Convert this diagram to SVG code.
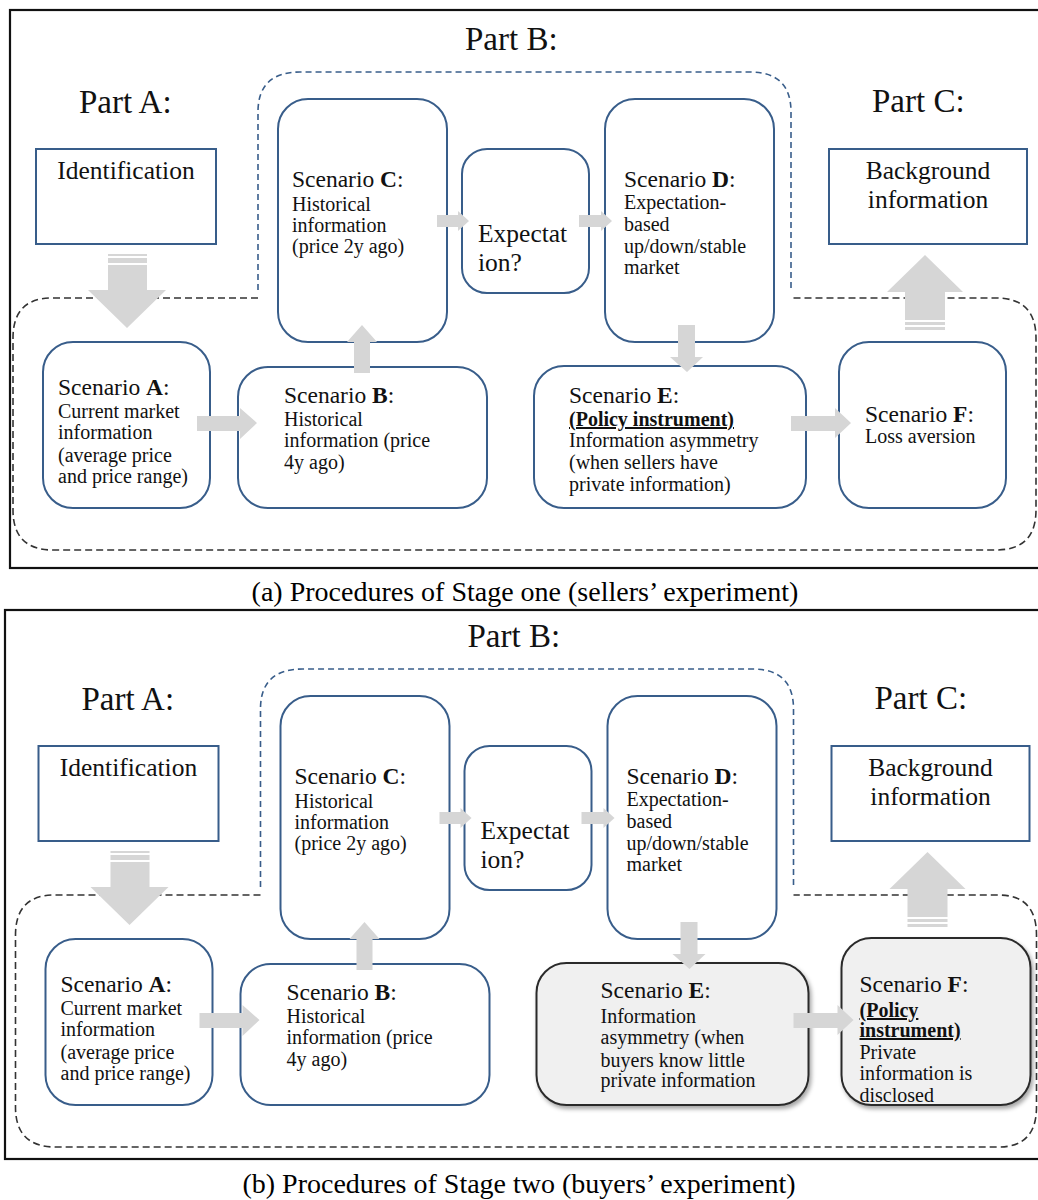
<svg xmlns="http://www.w3.org/2000/svg" width="1038" height="1200" viewBox="0 0 1038 1200">
<defs>
<style>
text{font-family:"Liberation Serif","DejaVu Serif",serif;fill:#111}
.part{font-size:33px}
.big{font-size:25.5px}
.ttl{font-size:23.5px}
.bd{font-size:20px}
.b{font-weight:bold}
.u{font-weight:bold;text-decoration:underline}
.cap{font-size:28px;fill:#000}
.box{fill:#fff;stroke:#385D8A;stroke-width:2}
.gbox{fill:#f0f0f0;stroke:#2b2b2b;stroke-width:2;filter:url(#sh)}
.arr{fill:#d6d6d6}
.frame{fill:none;stroke:#111;stroke-width:2.2}
.dashB{fill:none;stroke:#385D8A;stroke-width:1.6;stroke-dasharray:6 4}
.dashK{fill:none;stroke:#333;stroke-width:1.6;stroke-dasharray:7 4}
</style>
<filter id="sh" x="-10%" y="-10%" width="125%" height="130%">
<feDropShadow dx="2" dy="3" stdDeviation="2" flood-color="#000" flood-opacity="0.35"/>
</filter>
</defs>
<rect width="1038" height="1200" fill="#fff"/>

<!-- ===== Panel (a) ===== -->
<rect class="frame" x="10" y="10" width="1040" height="558"/>
<g id="panelA">
<g id="regions-a">
<path class="dashB" d="M258 290 V112 Q258 72 300 72 H750 Q791 72 791 112 V288"/>
<path class="dashK" d="M258 298 H52 Q13 298 13 338 V510 Q13 550 53 550 H996 Q1036 550 1036 510 V338 Q1036 298 996 298 H791"/>
</g>
<text class="part" x="465" y="50">Part B:</text>
<text class="part" x="79" y="113">Part A:</text>
<text class="part" x="872" y="112">Part C:</text>

<g id="a-identification">
<rect class="box" x="36" y="149" width="180" height="95"/>
<text class="big" x="126" y="179" text-anchor="middle">Identification</text>
</g>
<g id="a-background">
<rect class="box" x="829" y="149" width="198" height="95"/>
<text class="big" x="928" y="179" text-anchor="middle">Background</text>
<text class="big" x="928" y="208" text-anchor="middle">information</text>
</g>
<g id="a-scenarioC">
<rect class="box" x="278" y="99" width="169" height="243" rx="30"/>
<text class="ttl" x="292" y="187">Scenario <tspan class="b">C</tspan>:</text>
<text class="bd" x="292" y="211">Historical</text>
<text class="bd" x="292" y="232">information</text>
<text class="bd" x="292" y="253">(price 2y ago)</text>
</g>
<g id="a-expectation">
<rect class="box" x="462" y="149" width="127" height="144" rx="25"/>
<text class="big" x="478" y="242">Expectat</text>
<text class="big" x="478" y="271">ion?</text>
</g>
<g id="a-scenarioD">
<rect class="box" x="605" y="99" width="169" height="243" rx="30"/>
<text class="ttl" x="624" y="187">Scenario <tspan class="b">D</tspan>:</text>
<text class="bd" x="624" y="209">Expectation-</text>
<text class="bd" x="624" y="231">based</text>
<text class="bd" x="624" y="253">up/down/stable</text>
<text class="bd" x="624" y="274">market</text>
</g>
<g id="a-scenarioA">
<rect class="box" x="43" y="342" width="167" height="166" rx="30"/>
<text class="ttl" x="58" y="395">Scenario <tspan class="b">A</tspan>:</text>
<text class="bd" x="58" y="418">Current market</text>
<text class="bd" x="58" y="439">information</text>
<text class="bd" x="58" y="462">(average price</text>
<text class="bd" x="58" y="483">and price range)</text>
</g>
<g id="a-scenarioB">
<rect class="box" x="238" y="367" width="249" height="141" rx="30"/>
<text class="ttl" x="284" y="403">Scenario <tspan class="b">B</tspan>:</text>
<text class="bd" x="284" y="426">Historical</text>
<text class="bd" x="284" y="447">information (price</text>
<text class="bd" x="284" y="469">4y ago)</text>
</g>
<g id="a-scenarioE">
<rect class="box" x="534" y="366" width="272" height="142" rx="30"/>
<text class="ttl" x="569" y="403">Scenario <tspan class="b">E</tspan>:</text>
<text class="bd u" x="569" y="426">(Policy instrument)</text>
<text class="bd" x="569" y="447">Information asymmetry</text>
<text class="bd" x="569" y="469">(when sellers have</text>
<text class="bd" x="569" y="491">private information)</text>
</g>
<g id="a-scenarioF">
<rect class="box" x="839" y="342" width="167" height="166" rx="30"/>
<text class="ttl" x="865" y="422">Scenario <tspan class="b">F</tspan>:</text>
<text class="bd" x="865" y="443">Loss aversion</text>
</g>

<g id="a-connectors">
<path class="arr" d="M108 254 H147 V256 H108 Z M108 258 H147 V263 H108 Z M108 265 H147 V290 H166 L127 328 L88 290 H108 Z"/>
<path class="arr" d="M905 330 H945 V327 H905 Z M905 325 H945 V322 H905 Z M905 320 H945 V292 H963 L925 255 L887 292 H905 Z"/>
<path class="arr" d="M437 215 H458 V211 L469 221 L458 231 V227 H437 Z"/>
<path class="arr" d="M579 215 H601 V211 L612 221 L601 231 V227 H579 Z"/>
<path class="arr" d="M197 416 H240 V408 L257 423 L240 439 V431 H197 Z"/>
<path class="arr" d="M354 373 V342 H347 L362 325 L377 342 H370 V373 Z"/>
<path class="arr" d="M678 325 H695 V357 H703 L687 372 L670 357 H678 Z"/>
<path class="arr" d="M791 416 H835 V408 L851 423 L835 438 V431 H791 Z"/>
</g>
</g>
<text class="cap" x="525" y="601" text-anchor="middle">(a) Procedures of Stage one (sellers’ experiment)</text>

<!-- ===== Panel (b) ===== -->
<rect class="frame" x="5" y="610" width="1045" height="549"/>
<g id="panelB" transform="translate(2.5,597)">
<g id="regions-b">
<path class="dashB" d="M258 290 V112 Q258 72 300 72 H750 Q791 72 791 112 V288"/>
<path class="dashK" d="M258 298 H52 Q13 298 13 338 V510 Q13 550 53 550 H996 Q1034 550 1034 510 V338 Q1034 298 996 298 H791"/>
</g>
<text class="part" x="465" y="50">Part B:</text>
<text class="part" x="79" y="113">Part A:</text>
<text class="part" x="872" y="112">Part C:</text>

<g id="b-identification">
<rect class="box" x="36" y="149" width="180" height="95"/>
<text class="big" x="126" y="179" text-anchor="middle">Identification</text>
</g>
<g id="b-background">
<rect class="box" x="829" y="149" width="198" height="95"/>
<text class="big" x="928" y="179" text-anchor="middle">Background</text>
<text class="big" x="928" y="208" text-anchor="middle">information</text>
</g>
<g id="b-scenarioC">
<rect class="box" x="278" y="99" width="169" height="243" rx="30"/>
<text class="ttl" x="292" y="187">Scenario <tspan class="b">C</tspan>:</text>
<text class="bd" x="292" y="211">Historical</text>
<text class="bd" x="292" y="232">information</text>
<text class="bd" x="292" y="253">(price 2y ago)</text>
</g>
<g id="b-expectation">
<rect class="box" x="462" y="149" width="127" height="144" rx="25"/>
<text class="big" x="478" y="242">Expectat</text>
<text class="big" x="478" y="271">ion?</text>
</g>
<g id="b-scenarioD">
<rect class="box" x="605" y="99" width="169" height="243" rx="30"/>
<text class="ttl" x="624" y="187">Scenario <tspan class="b">D</tspan>:</text>
<text class="bd" x="624" y="209">Expectation-</text>
<text class="bd" x="624" y="231">based</text>
<text class="bd" x="624" y="253">up/down/stable</text>
<text class="bd" x="624" y="274">market</text>
</g>
<g id="b-scenarioA">
<rect class="box" x="43" y="342" width="167" height="166" rx="30"/>
<text class="ttl" x="58" y="395">Scenario <tspan class="b">A</tspan>:</text>
<text class="bd" x="58" y="418">Current market</text>
<text class="bd" x="58" y="439">information</text>
<text class="bd" x="58" y="462">(average price</text>
<text class="bd" x="58" y="483">and price range)</text>
</g>
<g id="b-scenarioB">
<rect class="box" x="238" y="367" width="249" height="141" rx="30"/>
<text class="ttl" x="284" y="403">Scenario <tspan class="b">B</tspan>:</text>
<text class="bd" x="284" y="426">Historical</text>
<text class="bd" x="284" y="447">information (price</text>
<text class="bd" x="284" y="469">4y ago)</text>
</g>
<g id="b-scenarioE">
<rect class="gbox" x="534" y="366" width="272" height="142" rx="30"/>
<text class="ttl" x="598" y="401">Scenario <tspan class="b">E</tspan>:</text>
<text class="bd" x="598" y="426">Information</text>
<text class="bd" x="598" y="447">asymmetry (when</text>
<text class="bd" x="598" y="470">buyers know little</text>
<text class="bd" x="598" y="490">private information</text>
</g>
<g id="b-scenarioF">
<rect class="gbox" x="839" y="341" width="189" height="167" rx="30"/>
<text class="ttl" x="857" y="395">Scenario <tspan class="b">F</tspan>:</text>
<text class="bd u" x="857" y="420">(Policy</text>
<text class="bd u" x="857" y="440">instrument)</text>
<text class="bd" x="857" y="462">Private</text>
<text class="bd" x="857" y="483">information is</text>
<text class="bd" x="857" y="505">disclosed</text>
</g>

<g id="b-connectors">
<path class="arr" d="M108 254 H147 V256 H108 Z M108 258 H147 V263 H108 Z M108 265 H147 V290 H166 L127 328 L88 290 H108 Z"/>
<path class="arr" d="M905 330 H945 V327 H905 Z M905 325 H945 V322 H905 Z M905 320 H945 V292 H963 L925 255 L887 292 H905 Z"/>
<path class="arr" d="M437 215 H458 V211 L469 221 L458 231 V227 H437 Z"/>
<path class="arr" d="M579 215 H601 V211 L612 221 L601 231 V227 H579 Z"/>
<path class="arr" d="M197 416 H240 V408 L257 423 L240 439 V431 H197 Z"/>
<path class="arr" d="M354 373 V342 H347 L362 325 L377 342 H370 V373 Z"/>
<path class="arr" d="M678 325 H695 V357 H703 L687 372 L670 357 H678 Z"/>
<path class="arr" d="M791 416 H835 V408 L851 423 L835 438 V431 H791 Z"/>
</g>
</g>
<text class="cap" x="519" y="1193" text-anchor="middle">(b) Procedures of Stage two (buyers’ experiment)</text>
</svg>
